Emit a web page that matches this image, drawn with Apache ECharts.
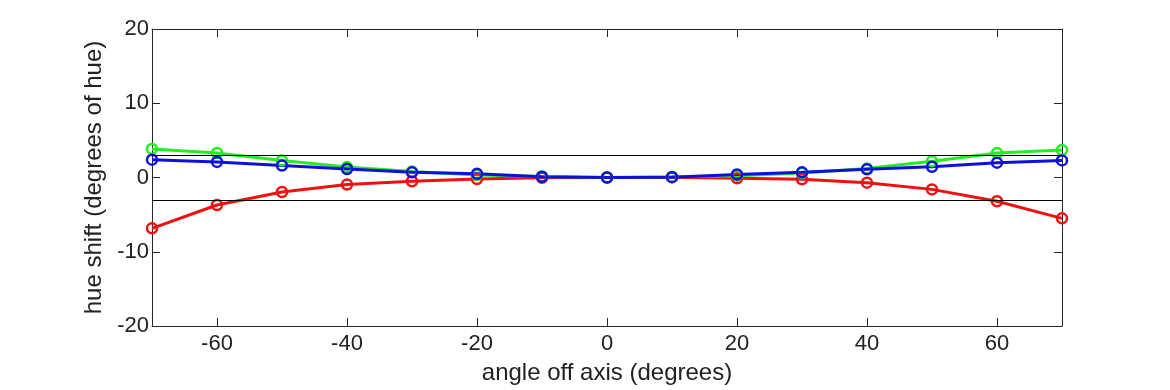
<!DOCTYPE html>
<html>
<head>
<meta charset="utf-8">
<script src="https://cdn.jsdelivr.net/npm/echarts@6/dist/echarts.min.js"></script>
<style>
  html, body { margin: 0; padding: 0; background: #fff; }
  #chart { width: 1170px; height: 390px; }
</style>
</head>
<body>
<div id="chart"></div>
<script>
// angles off axis (degrees)
const angles = [-70, -60, -50, -40, -30, -20, -10, 0, 10, 20, 30, 40, 50, 60, 70]
// hue shift per channel (degrees of hue)
const redShift = [-6.85, -3.7, -1.95, -0.95, -0.5, -0.2, -0.05, 0, 0.05, -0.1, -0.25, -0.7, -1.6, -3.2, -5.5]
const greenShift = [3.85, 3.3, 2.3, 1.4, 0.8, 0.35, 0.15, 0, 0.1, 0.25, 0.6, 1.2, 2.2, 3.3, 3.7]
const blueShift = [2.4, 2.1, 1.6, 1.15, 0.7, 0.5, 0.1, 0, 0.05, 0.4, 0.7, 1.1, 1.45, 2.0, 2.3]
// tolerance lines
const limits = [3, -3]
const xTicks = [-60, -40, -20, 0, 20, 40, 60]

const font = '"Liberation Sans", Arial, sans-serif'

function pairs(ys) {
	return angles.map((a, i) => [a, ys[i]])
}

function lineSeries(name, color, ys) {
	return {
		name: name,
		type: 'line',
		data: pairs(ys),
		symbol: 'circle',
		symbolSize: 10,
		lineStyle: { color: color, width: 3 },
		itemStyle: { color: 'rgba(255,255,255,0)', borderColor: color, borderWidth: 2.5 },
		animation: false,
		z: 3,
	}
}

const chart = echarts.init(document.getElementById('chart'))

const axisLine = { show: true, onZero: false, lineStyle: { color: '#262626', width: 1 } }
const tickStyle = { color: '#262626' }

chart.setOption({
	backgroundColor: '#fff',
	animation: false,
	grid: { left: 152, right: 108, top: 29, bottom: 63 },
	xAxis: [
		{
			type: 'value',
			min: -70,
			max: 70,
			name: 'angle off axis (degrees)',
			nameLocation: 'middle',
			nameGap: 35,
			nameTextStyle: { fontFamily: font, fontSize: 24, color: '#222' },
			axisLine: axisLine,
			axisTick: { show: true, inside: true, length: 8, customValues: xTicks, lineStyle: tickStyle },
			axisLabel: { customValues: xTicks, fontFamily: font, fontSize: 22, color: '#222', margin: 7 },
			splitLine: { show: false },
		},
		{
			type: 'value',
			position: 'top',
			min: -70,
			max: 70,
			axisLine: axisLine,
			axisTick: { show: true, inside: true, length: 8, customValues: xTicks, lineStyle: tickStyle },
			axisLabel: { show: false },
			splitLine: { show: false },
		},
	],
	yAxis: [
		{
			type: 'value',
			min: -20,
			max: 20,
			interval: 10,
			name: 'hue shift (degrees of hue)',
			nameLocation: 'middle',
			nameGap: 42,
			nameTextStyle: { fontFamily: font, fontSize: 24, color: '#222' },
			axisLine: axisLine,
			axisTick: { show: true, inside: true, length: 8, lineStyle: tickStyle },
			axisLabel: { fontFamily: font, fontSize: 22, color: '#222', margin: 3 },
			splitLine: { show: false },
		},
		{
			type: 'value',
			position: 'right',
			min: -20,
			max: 20,
			interval: 10,
			axisLine: axisLine,
			axisTick: { show: true, inside: true, length: 8, lineStyle: tickStyle },
			axisLabel: { show: false },
			splitLine: { show: false },
		},
	],
	series: [
		{
			type: 'line',
			data: [],
			silent: true,
			markLine: {
				symbol: 'none',
				silent: true,
				animation: false,
				label: { show: false },
				lineStyle: { color: '#000', width: 1, type: 'solid' },
				data: limits.map((v) => ({ yAxis: v })),
			},
		},
		lineSeries('red', '#f01010', redShift),
		lineSeries('green', '#22ee22', greenShift),
		lineSeries('blue', '#1010dd', blueShift),
	],
})
</script>
</body>
</html>
